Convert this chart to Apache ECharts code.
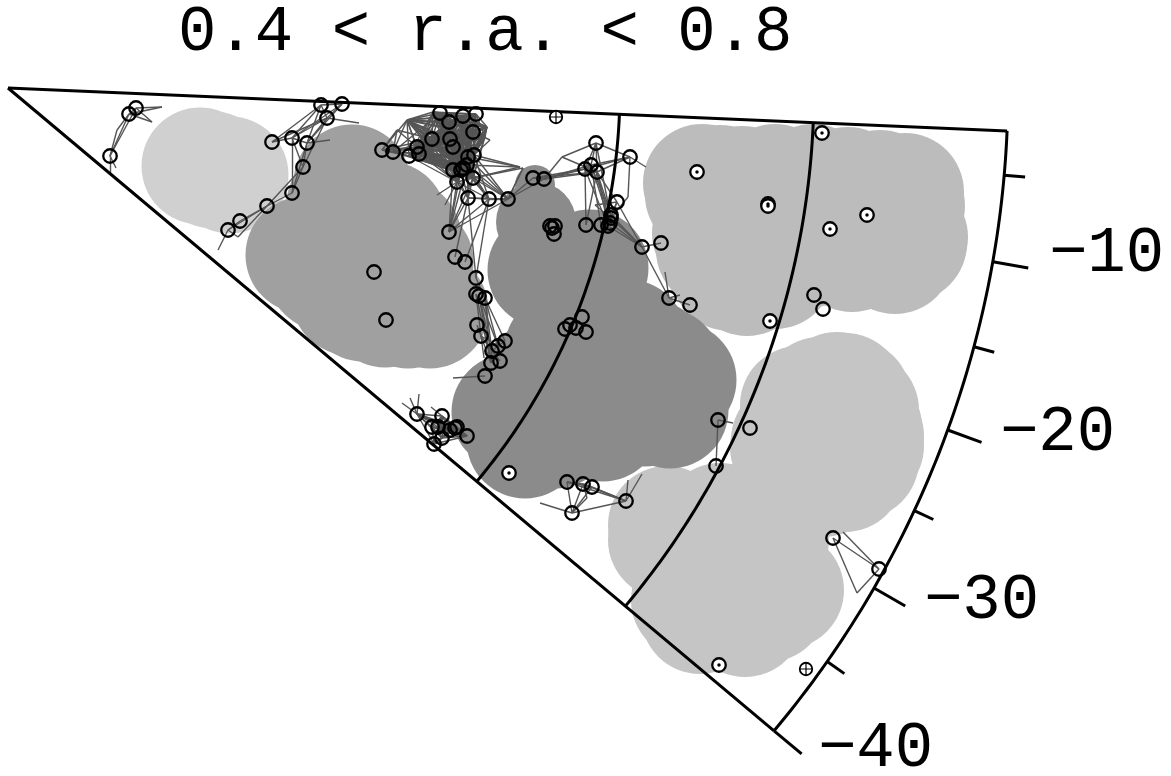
<!DOCTYPE html>
<html><head><meta charset="utf-8">
<style>html,body{margin:0;padding:0;background:#fff}#c{width:1171px;height:776px}</style>
<script src="https://cdn.jsdelivr.net/npm/echarts@6/dist/echarts.min.js"></script>
</head><body><div id="c"></div>
<script>
// Projected sky coordinates, thousandths of the outer radius, origin at the wedge apex.
const titleText = '0.4 < r.a. < 0.8';
const radii = [612, 806, 1000];
const decRange = [-2.46, -40];
const majorTicks = [-10, -20, -30, -40];
const minorTicks = [-5, -15, -25, -35];
const tickLabels = ['\u221210', '\u221220', '\u221230', '\u221240'];
const tickLabelAnchors = [[1099,167],[1050,346],[974,514],[868,662]];

const blobA = [[192,78],[222,87],[205,82]];
const blobB = [[344,95],[337,117],[380,132],[296,167],[342,209],[377,221],[422,222],[407,174],[332,152],[372,182],[355,215],[400,222],[318,185],[395,150]];
const blobC = [[538,182],[582,180],[502,324],[517,352],[670,292],[642,270],[637,320],[572,322],[662,322],[555,262],[592,262],[532,292],[602,242],[655,278],[547,342],[595,335],[620,250]];
const blobCMedium = [[528,134]];
const blobCSmall = [[527,97]];
const blobD = [[694,95],[696,107],[712,96],[734,97],[767,95],[805,95],[840,98],[872,101],[897,104],[898,118],[901,149],[900,155],[887,167],[882,165],[844,165],[805,160],[767,182],[739,189],[722,184],[707,162],[703,145],[772,142],[832,132]];
const blobE = [[829,303],[812,308],[798,315],[791,317],[844,310],[837,304],[852,322],[855,339],[857,348],[857,358],[852,372],[837,385],
[659,437],[712,434],[777,502],[737,530],[692,527],[792,392],[762,452],[692,462],[682,512],[659,452],[781,359],[782,352],[760,515],[720,525],[815,390]];

const nodes = [
[128,20],[121,26],[102,68],[313,17],[334,16],[319,30],[264,54],[284,50],[299,55],[295,79],
[284,105],[259,118],[232,133],[220,142],[374,62],[385,64],[401,68],[409,59],[411,66],[424,51],
[442,51],[445,59],[432,25],[441,34],[455,28],[468,26],[465,44],[466,67],[460,69],[459,77],
[445,82],[453,82],[455,80],[465,90],[449,94],[460,110],[481,111],[500,111],[525,90],[536,91],
[588,55],[622,69],[583,77],[577,81],[589,84],[609,114],[603,127],[603,130],[602,135],[600,138],
[593,137],[578,137],[542,138],[547,138],[544,140],[546,146],[634,159],[653,155],[441,144],[447,169],
[457,174],[468,190],[468,206],[471,208],[477,210],[469,237],[473,248],[497,253],[490,258],[484,263],
[492,273],[483,275],[477,288],[366,184],[378,232],[574,229],[562,237],[557,241],[568,240],[578,244],
[409,326],[434,328],[424,339],[430,339],[442,342],[447,340],[449,339],[459,348],[426,356],[434,350],
[559,394],[575,396],[584,399],[618,413],[564,425],[661,210],[682,217],[710,332],[742,340],[708,378],
[825,450],[871,481],[806,207],[815,221]
];
const dottedNodes = [[689,84],[760,116],[760,118],[814,45],[822,141],[859,127],[762,233],[501,385],[711,577]];
const crossedNodes = [[548,29],[798,581]];

const denseGroup = [16,17,18,19,20,21,22,23,24,25,26,27,28,29,30,31,32,33,34];
const denseHull = [[399,32],[425,24],[479,39],[477,49]];
const lowGroup = [80,81,82,83,84,85,86,87,88,89];
const edges = [
[14,15],[14,16],[15,16],[14,17],[14,18],[14,19],[15,17],[15,18],[15,19],[15,22],[15,30],
[0,1],[1,2],[0,2],[3,4],[3,5],[4,5],[3,6],[3,7],[3,8],[5,6],[5,7],[5,8],[4,7],[4,8],[6,7],[7,8],[7,9],[8,9],[9,10],[10,11],[11,12],[11,13],[12,13],[5,9],[7,10],[9,11],[8,10],
[38,39],[39,43],[39,42],[39,44],[38,44],[38,43],[42,40],[43,40],[44,40],[40,41],[41,42],[41,43],[41,44],[42,43],[43,44],[42,44],[44,48],[44,49],[44,46],[42,48],[43,49],[43,51],[44,51],
[45,46],[45,47],[46,48],[47,49],[46,50],[50,49],[48,50],[45,56],[46,56],[47,56],[48,56],[49,56],[56,57],[44,45],[42,46],[42,50],[40,47],
[37,35],[37,36],[35,36],[36,34],[36,33],[35,33],[35,34],[37,33],[37,27],[37,32],[37,29],[36,27],[36,29],[35,29],[35,28],[35,30],[35,31],[36,32],[37,28],
[58,34],[58,33],[58,35],[58,36],[58,37],[58,30],[58,31],[58,29],[61,35],[61,36],[60,36],[59,35],[37,38],[37,39],
[64,69],[64,68],[64,67],[63,69],[63,68],[62,66],[62,71],[64,71],[63,71],[66,69],[66,71],[65,66],[66,68],[67,68],[68,69],[69,70],[69,71],[61,64],
[90,91],[90,92],[91,92],[90,94],[91,94],[92,94],[90,93],[91,93],[92,93],[94,93],
[56,95],[95,96],[97,99],[100,101]
];
const spurs = [
[0,154,19],[1,144,34],[1,154,19],[0,144,34],[2,109,42],[1,109,42],[2,102,85],[2,108,80],
[13,210,162],[13,230,149],[11,230,149],[5,351,35],[8,322,52],
[14,389,42],[15,389,42],[17,389,42],[19,389,42],[14,399,32],[15,399,32],
[27,512,79],[28,512,79],[29,512,79],[33,512,79],[27,482,52],[26,482,52],[33,515,80],[37,515,80],[34,429,107],[34,437,117],
[37,515,80],[39,554,69],[44,554,69],[40,554,69],[41,638,79],[45,587,117],[47,587,117],[41,620,109],[47,620,109],
[72,445,290],[66,476,270],[80,394,315],[80,402,310],[80,411,306],[81,423,319],
[94,532,415],[93,620,392],[93,634,386],[94,579,410],[91,579,410],
[95,657,184],[95,672,207],[97,725,335],[100,849,505],[101,849,505],[101,835,444]
];

const nodeOutline = '#000';
function project(r, dec) {
  const a = -dec * Math.PI / 180;
  return [r * Math.cos(a), r * Math.sin(a)];
}
const frame = [];
frame.push({coords:[project(0,decRange[0]), project(radii[2],decRange[0])]});
frame.push({coords:[project(0,decRange[1]), project(radii[2],decRange[1])]});
radii.forEach(r => {
  const pts = [];
  for (let d = decRange[0]; d > decRange[1]; d -= 0.5) pts.push(project(r,d));
  pts.push(project(r,decRange[1]));
  frame.push({coords:pts});
});
const ticks = majorTicks.map(d => ({coords:[project(1000,d),project(1036,d)]}))
  .concat(minorTicks.map(d => ({coords:[project(1000,d),project(1021,d)]})));

const segs = [];
const addAll = pts => { for (let i=0;i<pts.length;i++) for (let j=i+1;j<pts.length;j++) segs.push({coords:[pts[i],pts[j]]}); };
addAll(denseGroup.map(i=>nodes[i]).concat(denseHull));
addAll(lowGroup.map(i=>nodes[i]));
edges.forEach(e => segs.push({coords:[nodes[e[0]],nodes[e[1]]]}));
spurs.forEach(s => segs.push({coords:[nodes[s[0]],[s[1],s[2]]]}));

const blob = (data,color,size,z) => ({type:'scatter',z,data,symbol:'circle',symbolSize:size,silent:true,clip:false,
  itemStyle:{color,opacity:1},emphasis:{disabled:true}});
const tickLabelStyle = {show:true,position:[0,0],align:'center',verticalAlign:'middle',fontFamily:'Liberation Mono',fontSize:64,fontWeight:'normal',color:'#000',opacity:1};

const chart = echarts.init(document.getElementById('c'),null,{renderer:'canvas'});
chart.setOption({
  animation:false,
  backgroundColor:'#fff',
  title:{text:titleText,left:178,top:1,padding:0,textStyle:{fontFamily:'Liberation Mono',fontSize:64,fontWeight:'normal',color:'#000'}},
  grid:{left:0,right:0,top:0,bottom:0,containLabel:false},
  xAxis:{type:'value',min:-8,max:1163,show:false},
  yAxis:{type:'value',min:-88,max:688,inverse:true,show:false},
  series:[
    blob(blobA,'#d0d0d0',117,1),
    blob(blobE,'#c5c5c5',118,1),
    blob(blobD,'#bcbcbc',118,1),
    blob(blobB,'#a0a0a0',117,2),
    blob(blobC,'#8b8b8b',117,3),
    blob(blobCMedium,'#8b8b8b',80,3),
    blob(blobCSmall,'#8b8b8b',40,3),
    {type:'lines',z:5,coordinateSystem:'cartesian2d',polyline:false,silent:true,data:segs,lineStyle:{color:'#555',width:1.4,opacity:1}},
    {type:'lines',z:6,coordinateSystem:'cartesian2d',polyline:true,silent:true,data:frame,lineStyle:{color:'#000',width:3,opacity:1}},
    {type:'lines',z:6,coordinateSystem:'cartesian2d',polyline:true,silent:true,data:ticks,lineStyle:{color:'#000',width:3,opacity:1}},
    {type:'scatter',z:7,data:nodes,symbol:'circle',symbolSize:13.5,silent:true,clip:false,itemStyle:{color:'rgba(0,0,0,0)',borderColor:nodeOutline,borderWidth:2.3,opacity:1}},
    {type:'scatter',z:7,data:dottedNodes,symbol:'circle',symbolSize:13.5,silent:true,clip:false,itemStyle:{color:'#fff',borderColor:nodeOutline,borderWidth:2.3,opacity:1}},
    {type:'scatter',z:8,data:dottedNodes,symbol:'circle',symbolSize:3.5,silent:true,clip:false,itemStyle:{color:'#000',opacity:1}},
    {type:'scatter',z:7,data:crossedNodes,symbol:'circle',symbolSize:12.5,silent:true,clip:false,itemStyle:{color:'#fff',borderColor:nodeOutline,borderWidth:1.8,opacity:1}},
    {type:'scatter',z:8,data:crossedNodes,symbol:'path://M0 5H10M5 0V10',symbolSize:12,silent:true,clip:false,itemStyle:{color:'none',borderColor:nodeOutline,borderWidth:1.2,opacity:1}},
    {type:'scatter',z:8,symbol:'circle',symbolSize:1,silent:true,clip:false,itemStyle:{color:'rgba(0,0,0,0)'},
      data:tickLabelAnchors.map((p,i)=>({value:p,label:Object.assign({},tickLabelStyle,{formatter:tickLabels[i]})})),
      label:tickLabelStyle}
  ]
});
</script></body></html>
